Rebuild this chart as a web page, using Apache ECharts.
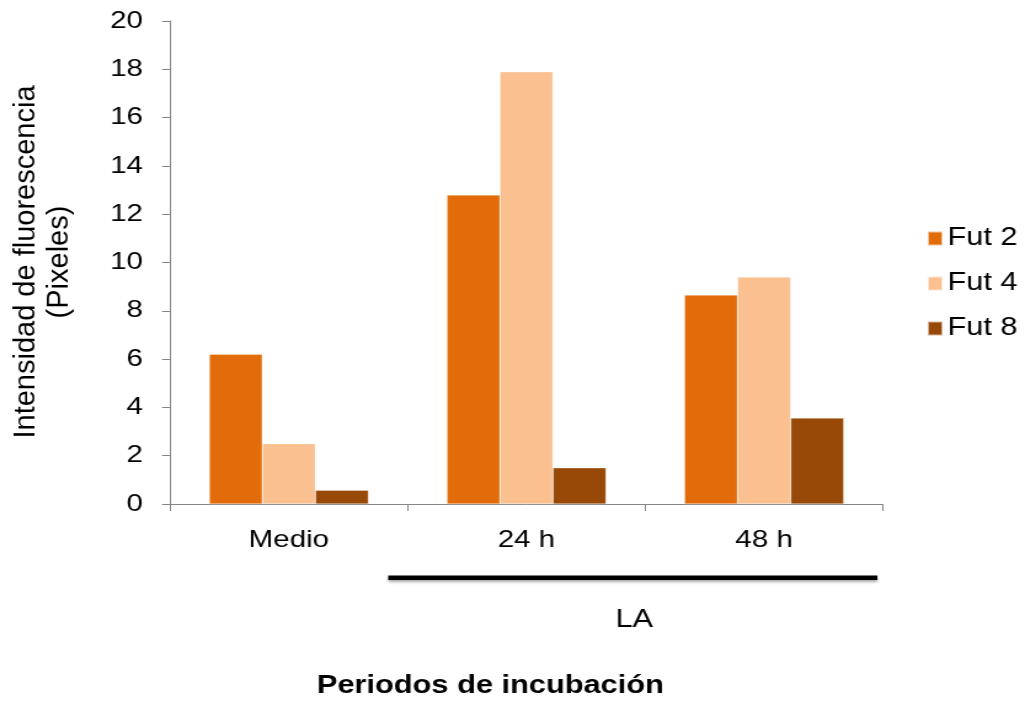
<!DOCTYPE html>
<html>
<head>
<meta charset="utf-8">
<script src="https://cdn.jsdelivr.net/npm/echarts@6/dist/echarts.min.js"></script>
<style>
  html, body { margin: 0; padding: 0; background: #fff; overflow: hidden; }
  /* the chart is laid out narrower and widened horizontally for its wide-lettered look */
  #chart { width: 833px; height: 704px; transform: scaleX(1.2305); transform-origin: 0 0; }
</style>
</head>
<body>
<div id="chart"></div>
<script>
// Incubation periods (x categories)
const categories = ['Medio', '24 h', '48 h'];
// Fluorescence intensity (pixels) per strain
const fut2 = [6.2, 12.8, 8.65];
const fut4 = [2.5, 17.9, 9.4];
const fut8 = [0.57, 1.5, 3.56];
const seriesNames = ['Fut 2', 'Fut 4', 'Fut 8'];
const yTicks = { min: 0, max: 20, interval: 2 };

const FONT = '"Liberation Sans", Arial, sans-serif';
const colors = ['#E36C0A', '#FAC090', '#984807'];
const STRETCH = 1.2305;

const chart = echarts.init(document.getElementById('chart'));
const values = [fut2, fut4, fut8];

chart.setOption({
  animation: false,
  textStyle: { fontFamily: FONT, color: '#000' },
  grid: { left: 138.2, right: 115.5, top: 21, bottom: 200 },
  legend: {
    orient: 'vertical',
    left: 748,
    top: 221,
    itemWidth: 12,
    itemHeight: 14,
    itemGap: 20,
    icon: 'rect',
    textStyle: { fontFamily: FONT, fontSize: 25, lineHeight: 24, color: '#000', padding: [0, 0, 0, -1] },
    data: seriesNames
  },
  xAxis: {
    type: 'category',
    data: categories,
    axisLine: { lineStyle: { color: '#868686', width: 1 } },
    axisTick: { show: true, length: 7, lineStyle: { color: '#868686' } },
    axisLabel: { fontFamily: FONT, fontSize: 24, color: '#000', margin: 24 }
  },
  yAxis: {
    type: 'value',
    min: yTicks.min,
    max: yTicks.max,
    interval: yTicks.interval,
    axisLine: { show: true, lineStyle: { color: '#868686', width: 1 } },
    axisTick: { show: true, length: 6.5, lineStyle: { color: '#868686' } },
    splitLine: { show: false },
    axisLabel: { fontFamily: FONT, fontSize: 24, color: '#000', margin: 22 }
  },
  series: seriesNames.map((name, i) => ({
    name,
    type: 'bar',
    data: values[i],
    barGap: '0%',
    barCategoryGap: '33%',
    itemStyle: { color: colors[i], borderColor: 'rgba(255,255,255,0.6)', borderWidth: 0.5 }
  })),
  graphic: [
    {
      // y-axis title, kept at normal letter proportions
      type: 'text',
      x: 35, y: 262,
      rotation: Math.PI / 2,
      scaleY: 1 / STRETCH,
      style: {
        text: 'Intensidad de fluorescencia\n(Pixeles)',
        font: '29px ' + FONT,
        lineHeight: 34,
        fill: '#000',
        textAlign: 'center',
        textVerticalAlign: 'middle'
      }
    },
    {
      type: 'rect',
      shape: { x: 315.5, y: 575.5, width: 397.5, height: 4.5 },
      style: { fill: '#000', shadowBlur: 3, shadowColor: 'rgba(0,0,0,0.35)', shadowOffsetY: 2 }
    },
    {
      type: 'text',
      x: 515.5, y: 620,
      style: { text: 'LA', font: '25px ' + FONT, fill: '#000', textAlign: 'center', textVerticalAlign: 'middle' }
    },
    {
      type: 'text',
      x: 398.5, y: 686,
      style: { text: 'Periodos de incubación', font: 'bold 25px ' + FONT, fill: '#000', textAlign: 'center', textVerticalAlign: 'middle' }
    }
  ]
});
</script>
</body>
</html>
